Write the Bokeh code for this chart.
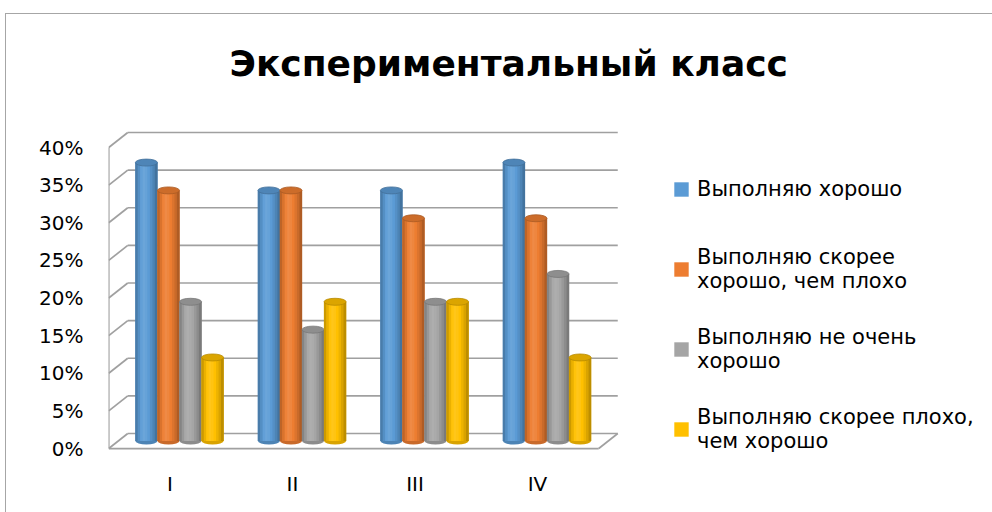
import numpy as np
from bokeh.plotting import figure
from bokeh.models import (ColumnDataSource, Range1d, LinearAxis, FixedTicker,
                          PrintfTickFormatter, Legend, LegendItem)
from bokeh.transform import dodge
from bokeh.embed import file_html
from bokeh.resources import INLINE

# ---------------- data ----------------
title_text = "Экспериментальный класс"
categories = ["I", "II", "III", "IV"]
series_names = [
    "Выполняю хорошо",
    "Выполняю скорее\nхорошо, чем плохо",
    "Выполняю не очень\nхорошо",
    "Выполняю скорее плохо,\nчем хорошо",
]
good = [37.0, 33.3, 33.3, 37.0]
rather_good = [33.3, 33.3, 29.6, 29.6]
not_very_good = [18.5, 14.8, 18.5, 22.2]
rather_bad = [11.1, 18.5, 18.5, 11.1]
y_ticks = [0, 5, 10, 15, 20, 25, 30, 35, 40]
colors = ["#5B9BD5", "#ED7D31", "#A5A5A5", "#FFC000"]

series_values = [good, rather_good, not_very_good, rather_bad]

# ---------------- geometry / style ----------------
W, H = 992, 512
FL, FR, FT, FB = 108, 992, 125, 470   # frame edges (pixels)
X0, X1 = -0.5796, 6.6367
Y0, Y1 = -3.920, 41.927
DX, DY = 0.0776, 1.0          # half depth of the pseudo-3D box (data units)
BW = 0.18                     # cylinder width
offsets = [-0.27, -0.09, 0.09, 0.27]
GRID = "#A0A0A0"
BORDER = "#A6A6A6"
FONT = "DejaVu Sans"


def shade(hex_color, f):
    h = hex_color.lstrip("#")
    rgb = [int(h[i:i + 2], 16) for i in (0, 2, 4)]
    if f >= 1:
        rgb = [c + (255 - c) * (f - 1) for c in rgb]
    else:
        rgb = [c * f for c in rgb]
    return "#" + "".join("%02x" % int(max(0, min(255, round(c)))) for c in rgb)


chart_border_css = (
    f"linear-gradient({BORDER},{BORDER}) 5px 13px / 1px 100% no-repeat, "
    f"linear-gradient({BORDER},{BORDER}) 5px 13px / 100% 1px no-repeat, #ffffff"
)

p = figure(width=W, height=H, output_backend="svg", toolbar_location=None,
           x_range=Range1d(X0, X1), y_range=Range1d(Y0, Y1),
           x_axis_location=None, y_axis_location=None,
           min_border_left=FL, min_border_right=W - FR,
           min_border_top=FT, min_border_bottom=H - FB,
           title=title_text, styles={"background": chart_border_css})
p.outline_line_color = None
p.background_fill_color = "white"
p.border_fill_alpha = 0
p.background_fill_alpha = 0
p.xgrid.grid_line_color = None
p.ygrid.grid_line_color = None

p.title.align = "left"
p.title.vertical_align = "top"
p.title.offset = 121
p.title.standoff = 80
p.title.text_font = FONT
p.title.text_font_style = "bold"
p.title.text_font_size = "36px"
p.title.text_color = "#000000"

# front-plane ranges for the tick labels
p.extra_y_ranges = {"front": Range1d(Y0 + DY, Y1 + DY)}
p.extra_x_ranges = {"front": Range1d(X0 + DX, X1 + DX)}

yaxis = LinearAxis(y_range_name="front", ticker=FixedTicker(ticks=y_ticks),
                   formatter=PrintfTickFormatter(format="%d%%"),
                   axis_line_color=None, major_tick_line_color=None,
                   minor_tick_line_color=None, major_tick_out=0, major_tick_in=0,
                   major_label_standoff=25, major_label_text_font=FONT,
                   major_label_text_font_size="20px", major_label_text_color="#000000")
p.add_layout(yaxis, "left")

xaxis = LinearAxis(x_range_name="front", ticker=FixedTicker(ticks=list(range(len(categories)))),
                   major_label_overrides={i: c for i, c in enumerate(categories)},
                   axis_line_color=None, major_tick_line_color=None,
                   minor_tick_line_color=None, major_tick_out=0, major_tick_in=0,
                   major_label_standoff=1, major_label_text_font=FONT,
                   major_label_text_font_size="20px", major_label_text_color="#000000")
p.add_layout(xaxis, "below")

# ---------------- walls and floor ----------------
n = len(categories)
lf, lb = -0.5 - DX, -0.5 + DX
rf, rb = n - 0.5 - DX, n - 0.5 + DX
xs, ys = [], []
for v in y_ticks:
    xs.append([lb, rb]); ys.append([v + DY, v + DY])
    xs.append([lf, lb]); ys.append([v - DY, v + DY])
xs.append([lf, lf]); ys.append([y_ticks[0] - DY, y_ticks[-1] - DY])
xs.append([lf, rf]); ys.append([y_ticks[0] - DY, y_ticks[0] - DY])
xs.append([rf, rb]); ys.append([y_ticks[0] - DY, y_ticks[0] + DY])
p.multi_line(xs, ys, line_color=GRID, line_width=1.7)

# ---------------- cylinders ----------------
strip_factors = [0.80, 0.92, 1.04, 1.10, 1.07, 1.0, 0.93, 0.85, 0.74]
ns = len(strip_factors)
xc = np.arange(n)
legend_items = []
for i, (vals, col, name) in enumerate(zip(series_values, colors, series_names)):
    src = ColumnDataSource(dict(x=xc + offsets[i], top=vals))
    p.ellipse(x="x", y=0, width=BW, height=7, height_units="screen", source=src,
              fill_color=shade(col, 0.85), line_color=None)
    r = p.vbar(x="x", top="top", bottom=0, width=BW, source=src,
               fill_color=col, line_color=None)
    for k, f in enumerate(strip_factors):
        off = -BW / 2 + (k + 0.5) * BW / ns
        p.vbar(x=dodge("x", off, range=p.x_range), top="top", bottom=0,
               width=BW / ns + 0.003, source=src, fill_color=shade(col, f), line_color=None)
    p.ellipse(x="x", y="top", width=BW, height=7, height_units="screen", source=src,
              fill_color=shade(col, 0.86), line_color=shade(col, 0.72), line_width=0.8)
    legend_items.append(LegendItem(label=name, renderers=[r]))

legend = Legend(items=legend_items, location=(564, 9), orientation="vertical",
                glyph_width=18, glyph_height=18, label_standoff=7, spacing=16,
                label_height=64, padding=0, margin=0, border_line_color=None,
                background_fill_alpha=0,
                label_text_font=FONT, label_text_font_size="21px",
                label_text_color="#000000")
p.add_layout(legend)

open("out.html", "w").write(file_html(p, INLINE))
